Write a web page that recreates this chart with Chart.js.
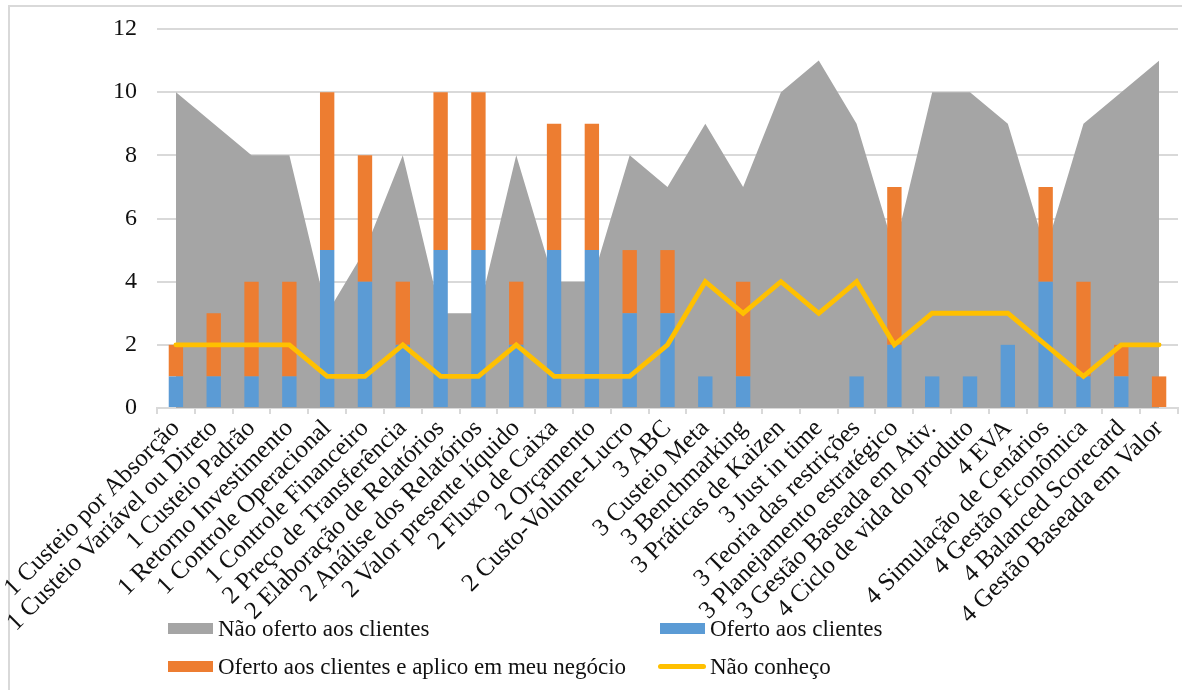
<!DOCTYPE html>
<html>
<head>
<meta charset="utf-8">
<script src="https://cdn.jsdelivr.net/npm/chart.js@4.4.1/dist/chart.umd.min.js"></script>
<style>
  html, body { margin: 0; padding: 0; background: #ffffff; }
  #wrap { position: relative; width: 1182px; height: 690px; overflow: hidden; background: #fff; }
  #frame { position: absolute; left: 8px; top: 5px; width: 1200px; height: 720px; border: 2px solid #d9d9d9; box-sizing: border-box; }
  #chart { position: absolute; left: 0; top: 0; }
  .leg { position: absolute; font-family: "Liberation Serif", "Times New Roman", serif; font-size: 23px; color: #111; white-space: nowrap; line-height: 1; }
  .sw { position: absolute; }
</style>
</head>
<body>
<div id="wrap">
  <div id="frame"></div>
  <canvas id="chart" width="1182" height="690"></canvas>
  <div id="legend"></div>
</div>
<script>
// Practices, grouped by level (1-4)
const categories = [
  "1 Custeio por Absorção", "1 Custeio Variável ou Direto", "1 Custeio Padrão",
  "1 Retorno Investimento", "1 Controle Operacional", "1 Controle Financeiro",
  "2 Preço de Transferência", "2 Elaboração de Relatórios", "2 Análise dos Relatórios",
  "2 Valor presente líquido", "2 Fluxo de Caixa", "2 Orçamento", "2 Custo-Volume-Lucro",
  "3 ABC", "3 Custeio Meta", "3 Benchmarking", "3 Práticas de Kaizen", "3 Just in time",
  "3 Teoria das restrições", "3 Planejamento estratégico", "3 Gestão Baseada em Ativ.",
  "4 Ciclo de vida do produto", "4 EVA", "4 Simulação de Cenários", "4 Gestão Econômica",
  "4 Balanced Scorecard", "4 Gestão Baseada em Valor"
];

// Answer counts per practice
const naoOferto    = [10, 9, 8, 8, 3, 5, 8, 3, 3, 8, 4, 4, 8, 7, 9, 7, 10, 11, 9, 5, 10, 10, 9, 5, 9, 10, 11];
const oferto       = [1, 1, 1, 1, 5, 4, 2, 5, 5, 2, 5, 5, 3, 3, 1, 1, 0, 0, 1, 2, 1, 1, 2, 4, 1, 1, 0];
const ofertoAplico = [1, 2, 3, 3, 5, 4, 2, 5, 5, 2, 4, 4, 2, 2, 0, 3, 0, 0, 0, 5, 0, 0, 0, 3, 3, 1, 1];
const naoConheco   = [2, 2, 2, 2, 1, 1, 2, 1, 1, 2, 1, 1, 1, 2, 4, 3, 4, 3, 4, 2, 3, 3, 3, 2, 1, 2, 2];

const seriesNames = [
  "Não oferto aos clientes", "Oferto aos clientes",
  "Oferto aos clientes e aplico em meu negócio", "Não conheço"
];
const colors = { gray: "#a5a5a5", blue: "#5b9bd5", orange: "#ed7d31", yellow: "#ffc000" };

const FONT = "'Liberation Serif', 'Times New Roman', serif";
const gridColor = "#d9d9d9";

const ctx = document.getElementById("chart").getContext("2d");
new Chart(ctx, {
  type: "bar",
  data: {
    labels: categories,
    datasets: [
      {
        type: "line", label: seriesNames[0], data: naoOferto, stack: "area",
        backgroundColor: colors.gray, borderColor: colors.gray, borderWidth: 0,
        fill: "origin", pointRadius: 0, tension: 0, order: 3
      },
      {
        label: seriesNames[1], data: oferto, stack: "bars",
        backgroundColor: colors.blue, order: 2,
        categoryPercentage: 1, barPercentage: 0.38
      },
      {
        label: seriesNames[2], data: ofertoAplico, stack: "bars",
        backgroundColor: colors.orange, order: 2,
        categoryPercentage: 1, barPercentage: 0.38
      },
      {
        type: "line", label: seriesNames[3], data: naoConheco, stack: "line",
        borderColor: colors.yellow, backgroundColor: colors.yellow, borderWidth: 4.8,
        fill: false, pointRadius: 0, tension: 0, order: 1,
        borderJoinStyle: "miter", borderCapStyle: "round"
      }
    ]
  },
  options: {
    responsive: false,
    animation: false,
    layout: { padding: { left: 10, top: 29, right: 4, bottom: 0 } },
    plugins: { legend: { display: false }, tooltip: { enabled: false }, title: { display: false } },
    scales: {
      x: {
        stacked: true,
        offset: true,
        grid: { offset: true, drawOnChartArea: false, drawTicks: true, tickLength: 6, color: gridColor, lineWidth: 2 },
        border: { display: true, color: gridColor, width: 2 },
        ticks: {
          autoSkip: false, minRotation: 45, maxRotation: 45, padding: 0,
          color: "#111", font: { family: FONT, size: 25 }
        },
        afterFit: (s) => { s.height = 690 - 408; }
      },
      y: {
        stacked: true,
        min: 0, max: 12,
        grid: { color: gridColor, lineWidth: 2, drawTicks: false },
        border: { display: false },
        ticks: { stepSize: 2, padding: 20, color: "#111", font: { family: FONT, size: 24 } },
        afterFit: (s) => { s.width = 147; s.paddingTop = 0; s.paddingBottom = 0; }
      }
    }
  }
});

// Legend laid out in two columns below the category labels
const legendItems = [
  { name: seriesNames[0], color: colors.gray,   kind: "box",  x: 168, y: 629 },
  { name: seriesNames[1], color: colors.blue,   kind: "box",  x: 660, y: 629 },
  { name: seriesNames[2], color: colors.orange, kind: "box",  x: 168, y: 667 },
  { name: seriesNames[3], color: colors.yellow, kind: "line", x: 660, y: 667 }
];
const legend = document.getElementById("legend");
legendItems.forEach((it) => {
  const sw = document.createElement("div");
  sw.className = "sw";
  if (it.kind === "box") {
    Object.assign(sw.style, { left: it.x + "px", top: (it.y - 6) + "px", width: "45px", height: "11px", background: it.color });
  } else {
    Object.assign(sw.style, { left: (it.x - 2) + "px", top: (it.y - 3) + "px", width: "48px", height: "5px", background: it.color, borderRadius: "3px" });
  }
  legend.appendChild(sw);
  const tx = document.createElement("div");
  tx.className = "leg";
  tx.textContent = it.name;
  Object.assign(tx.style, { left: (it.x + 50) + "px", top: (it.y - 12) + "px" });
  legend.appendChild(tx);
});
</script>
</body>
</html>
